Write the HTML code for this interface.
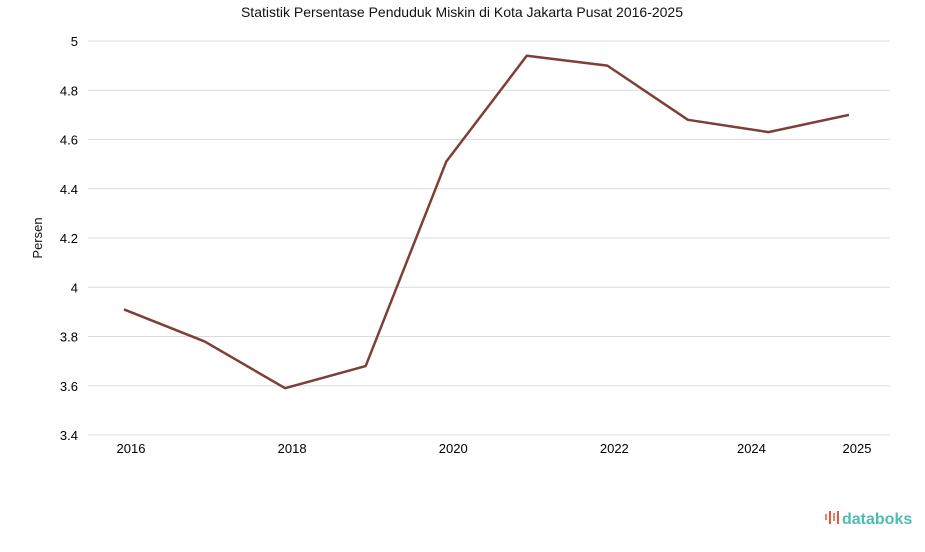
<!DOCTYPE html>
<html><head><meta charset="utf-8"><style>
body{margin:0;background:#fff;font-family:"Liberation Sans",sans-serif;}
svg text{font-family:"Liberation Sans",sans-serif;}
</style></head><body>
<svg id="c" width="925" height="547">
<text x="462" y="17" text-anchor="middle" font-size="14" fill="#111">Statistik Persentase Penduduk Miskin di Kota Jakarta Pusat 2016-2025</text>
<text transform="translate(42,238) rotate(-90)" text-anchor="middle" font-size="13" fill="#111">Persen</text>
<g id="grid"></g><g id="xt"></g>
<path id="line" fill="none" stroke="#7f3e36" stroke-width="2.5" stroke-linejoin="round"/>
<g>
<rect x="825" y="514" width="2" height="6" fill="#f0845a"/><rect x="829" y="511" width="2" height="13" fill="#e8564a"/><rect x="833" y="513" width="2" height="8" fill="#f0845a"/><rect x="837" y="511" width="2" height="13" fill="#e8564a"/>
<text x="842" y="524" font-size="16" font-weight="bold" fill="#4dbdb1">databoks</text></g>
</svg>
<script>
const years=[2016,2017,2018,2019,2020,2021,2022,2023,2024,2025];
const values=[3.91,3.78,3.59,3.68,4.51,4.94,4.90,4.68,4.63,4.70];
const yTicks=[3.4,3.6,3.8,4,4.2,4.4,4.6,4.8,5];
const xTickLabels=[2016,2018,2020,2022,2024,2025];
const x=v=>124+(v-2016)*(849-124)/9;
const y=v=>435-(v-3.4)*(435-41)/1.6;
const ns="http://www.w3.org/2000/svg";
const g=document.getElementById('grid');
yTicks.forEach(t=>{
 const l=document.createElementNS(ns,'line');
 
 
 l.setAttribute('x1',88);l.setAttribute('x2',890);l.setAttribute('y1',y(t));l.setAttribute('y2',y(t));
 l.setAttribute('stroke','#dcdcdc');g.appendChild(l);
 const tx=document.createElementNS(ns,'text');
 
 
 tx.setAttribute('x',78);tx.setAttribute('y',y(t)+5);tx.setAttribute('text-anchor','end');tx.setAttribute('font-size','13');
 tx.textContent=String(t);g.appendChild(tx);
});
const xt=document.getElementById('xt');
xTickLabels.forEach(v=>{
 const tx=document.createElementNS(ns,'text');
 
 
 let px=x(v)+7; if(v===2024)px=x(v)-17; if(v===2025)px=x(v)+8;
 tx.setAttribute('x',px);tx.setAttribute('y',453);tx.setAttribute('text-anchor','middle');tx.setAttribute('font-size','13');
 tx.textContent=String(v);xt.appendChild(tx);
});
document.getElementById('line').setAttribute('d',values.map((v,i)=>(i?'L':'M')+x(years[i])+','+y(v)).join(' '));
</script>
</body></html>
